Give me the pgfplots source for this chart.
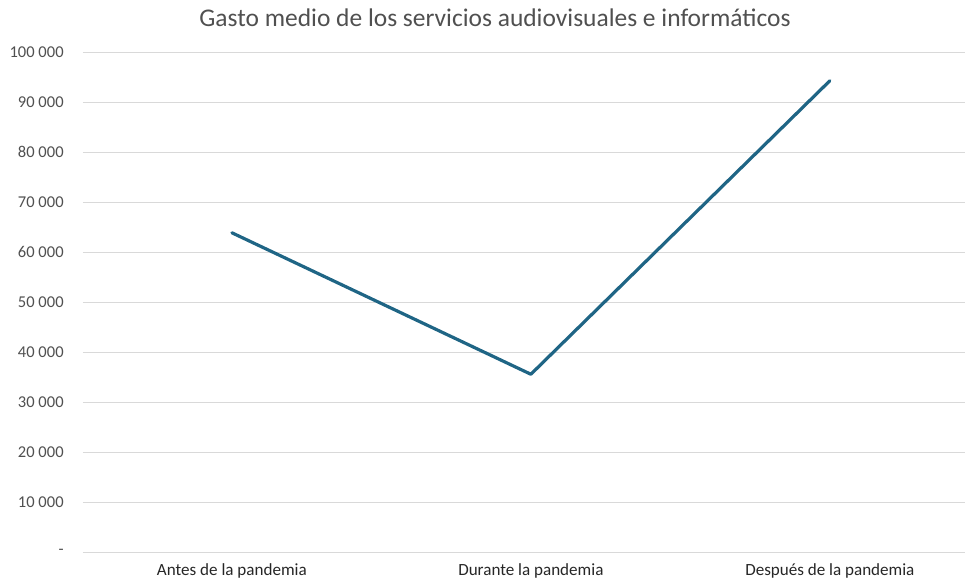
\documentclass[border=0pt]{standalone}
\usepackage{fontspec}
\setmainfont{Carlito}
\usepackage{pgfplots}
\pgfplotsset{compat=1.18}
\definecolor{linec}{RGB}{31,101,133}
\definecolor{gridc}{RGB}{217,217,217}
\definecolor{txt}{RGB}{80,80,80}
\begin{document}
\begin{tikzpicture}
\path (-62.25pt,-20.8pt) rectangle (663.75pt,414.2pt);
\begin{axis}[at={(0,0)}, anchor=south west, scale only axis,
  width=661.5pt, height=375pt,
  xmin=-0.498, xmax=2.452, ymin=0, ymax=100000,
  scaled y ticks=false,
  xtick={0,1,2},
  xticklabels={Antes de la pandemia, Durante la pandemia, Después de la pandemia},
  ytick={0,10000,20000,30000,40000,50000,60000,70000,80000,90000,100000},
  yticklabels={{-\hspace{0.8em}},{10 000},{20 000},{30 000},{40 000},{50 000},{60 000},{70 000},{80 000},{90 000},{100 000}},
  axis line style={draw=none}, major tick length=0pt,
  ymajorgrids, grid style={gridc, line width=0.75pt},
  tick label style={text=txt},
  yticklabel style={font=\fontsize{12.4}{14}\selectfont, xshift=-11pt},
  xticklabel style={font=\fontsize{12.8}{14}\selectfont, text=black!85, yshift=-5pt},
  clip=false,
]
\addplot[linec, line width=2.4pt, line join=round, line cap=round] coordinates {(0,63900) (1,35600) (2,94300)};
\end{axis}
\node[font=\fontsize{19.1}{23}\selectfont, text=txt] at (309pt,400.7pt) {Gasto medio de los servicios audiovisuales e informáticos};
\end{tikzpicture}
\end{document}
